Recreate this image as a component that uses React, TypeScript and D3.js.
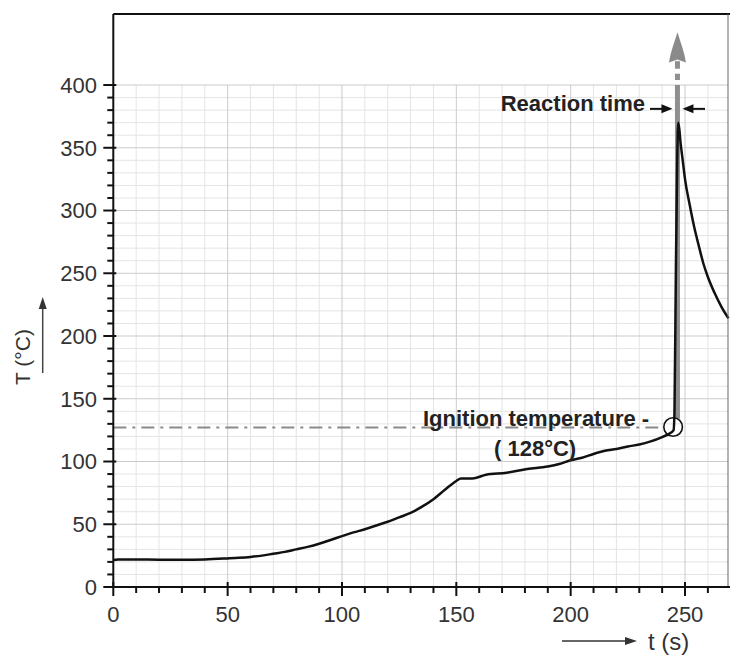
import React from "react";
import * as d3 from "d3";

const times = [0, 2, 5, 10, 20, 30, 40, 50, 55, 60, 65, 70, 75, 80, 85, 90, 95, 100, 105, 110, 115, 120, 125, 130, 135, 140, 145, 150, 152, 157, 163, 172, 181, 190, 195, 200, 205, 210, 215, 220, 225, 230, 235, 240, 243, 245, 245.4, 246.0, 246.6, 247, 247.5, 248, 249, 250, 252, 254, 256, 258, 260, 263, 266, 269];
const temps = [21.5, 22, 22, 22, 21.8, 21.8, 22, 22.8, 23.3, 24, 25, 26.5, 28, 30, 32, 34.5, 37.5, 40.5, 43.5, 46, 49, 52, 55.5, 59, 64, 70, 77.5, 84.5, 86.5, 86.5, 89.5, 91, 94, 96, 98, 101, 103, 106, 108.5, 110, 112, 113.5, 116, 119.5, 122, 125, 140, 250, 340, 370, 365, 355, 340, 325, 305, 287, 272, 258, 247, 234, 223, 214];

const xTicks = [0, 50, 100, 150, 200, 250];
const yTicks = [0, 50, 100, 150, 200, 250, 300, 350, 400];

const ignitionTime = 244.8;
const reactionTime = 246.7;
const reactionArrowT = 381;

const FONT = "'Liberation Sans', Arial, Helvetica, sans-serif";

export default function App() {
  const left = 113.3, right = 728, top = 14, bottom = 587;
  const x = d3.scaleLinear().domain([0, 268.8]).range([left, right]);
  const y = d3.scaleLinear().domain([0, 456.6]).range([bottom, top]);

  const minorX = d3.range(0, 270, 10);
  const minorY = d3.range(0, 401, 10);
  const line = d3.line<number>().x((_, i) => x(times[i])).y((d) => y(d)).curve(d3.curveMonotoneX);
  const path = line(temps) || "";

  const gx = x(reactionTime);
  const yTip = y(442), yBase = y(418);
  const ry = y(reactionArrowT);

  return (
    <div style={{ position: "absolute", left: 0, top: 0 }}>
      <svg width={730} height={657} style={{ display: "block", background: "#fff" }} fontFamily={FONT}>
        <defs>
          <clipPath id="plot">
            <rect x={left} y={top} width={730 - left} height={bottom - top} />
          </clipPath>
        </defs>
        {/* minor grid */}
        <g stroke="#e4e4e4" strokeWidth={1}>
          {minorX.filter((v) => v % 50 !== 0).map((v) => (
            <line key={"mx" + v} x1={x(v)} x2={x(v)} y1={y(0)} y2={y(400)} />
          ))}
          {minorY.filter((v) => v % 50 !== 0).map((v) => (
            <line key={"my" + v} x1={left} x2={right} y1={y(v)} y2={y(v)} />
          ))}
        </g>
        {/* major grid */}
        <g stroke="#cbcbcb" strokeWidth={1}>
          {xTicks.filter((v) => v > 0).map((v) => (
            <line key={"gx" + v} x1={x(v)} x2={x(v)} y1={y(0)} y2={y(400)} />
          ))}
          {yTicks.filter((v) => v > 0).map((v) => (
            <line key={"gy" + v} x1={left} x2={right} y1={y(v)} y2={y(v)} />
          ))}
        </g>

        {/* ignition dash-dot line */}
        <line x1={left} x2={x(ignitionTime) - 9} y1={y(127)} y2={y(127)} stroke="#8a8a8a" strokeWidth={2} strokeDasharray="13 6 3 6" />

        {/* gray vertical reaction line */}
        <g stroke="#8f8f8f" strokeWidth={5}>
          <line x1={gx} x2={gx} y1={y(134)} y2={y(400)} />
          <line x1={gx} x2={gx} y1={y(404)} y2={y(409)} />
          <line x1={gx} x2={gx} y1={y(413)} y2={y(419)} />
        </g>
        <path d={`M${gx},${yTip} C${gx + 3},${yTip + 10} ${gx + 7},${yBase - 10} ${gx + 8.5},${yBase} L${gx},${yBase - 3} L${gx - 8.5},${yBase} C${gx - 7},${yBase - 10} ${gx - 3},${yTip + 10} ${gx},${yTip} Z`} fill="#8a8a8a" />

        {/* curve */}
        <g clipPath="url(#plot)">
          <path d={path} fill="none" stroke="#111" strokeWidth={2.5} strokeLinejoin="round" />
        </g>

        {/* ignition circle */}
        <circle cx={x(ignitionTime)} cy={y(127.5)} r={9.3} fill="none" stroke="#111" strokeWidth={1.6} />

        {/* reaction time arrows */}
        <g stroke="#111" strokeWidth={2}>
          <line x1={650} x2={gx - 8} y1={ry} y2={ry} />
          <line x1={gx + 8} x2={705} y1={ry} y2={ry} />
        </g>
        <path d={`M${gx - 5},${ry} L${gx - 16},${ry - 4.5} L${gx - 16},${ry + 4.5} Z`} fill="#111" />
        <path d={`M${gx + 5},${ry} L${gx + 16},${ry - 4.5} L${gx + 16},${ry + 4.5} Z`} fill="#111" />

        {/* frame */}
        <line x1={left} x2={730} y1={top} y2={top} stroke="#111" strokeWidth={2} />
        <line x1={right} x2={right} y1={top} y2={bottom} stroke="#666" strokeWidth={1} />
        <line x1={left} x2={left} y1={top} y2={bottom + 1} stroke="#111" strokeWidth={2} />
        <line x1={left - 1} x2={730} y1={bottom} y2={bottom} stroke="#111" strokeWidth={2} />

        {/* ticks */}
        <g stroke="#111" strokeWidth={2}>
          {minorX.filter((v) => v % 50 !== 0).map((v) => (
            <line key={"tx" + v} x1={x(v)} x2={x(v)} y1={bottom} y2={bottom + 6} />
          ))}
          {xTicks.map((v) => (
            <line key={"TX" + v} x1={x(v)} x2={x(v)} y1={bottom - 5} y2={bottom + 9} />
          ))}
          {minorY.filter((v) => v % 50 !== 0).map((v) => (
            <line key={"ty" + v} x1={left - 6} x2={left} y1={y(v)} y2={y(v)} />
          ))}
          {yTicks.map((v) => (
            <line key={"TY" + v} x1={left - 10} x2={left + 3} y1={y(v)} y2={y(v)} />
          ))}
        </g>
        <g fontSize={22} fill="#333" textAnchor="middle">
          {xTicks.map((v) => (
            <text key={"lx" + v} x={x(v)} y={622}>{v}</text>
          ))}
        </g>
        <g fontSize={22} fill="#333" textAnchor="end">
          {yTicks.map((v) => (
            <text key={"ly" + v} x={97} y={y(v) + 7.8}>{v}</text>
          ))}
        </g>

        {/* axis labels */}
        <text transform="translate(30,357) rotate(-90)" textAnchor="middle" fontSize={21} fill="#333">T (°C)</text>
        <line x1={42.7} x2={42.7} y1={373} y2={306} stroke="#444" strokeWidth={1.5} />
        <path d="M42.7,297 L38.7,309 L46.7,309 Z" fill="#333" />

        <text x={648} y={650} fontSize={24} fill="#333">t (s)</text>
        <line x1={562} x2={628} y1={641} y2={641} stroke="#333" strokeWidth={1.5} />
        <path d="M637,641 L625,637 L625,645 Z" fill="#333" />

        {/* annotations */}
        <text x={645} y={111} textAnchor="end" fontSize={22} fontWeight="bold" fill="#222">Reaction time</text>
        <text x={423} y={425.7} fontSize={22} fontWeight="bold" fill="#222">Ignition temperature -</text>
        <text x={494} y={456} fontSize={22} fontWeight={600} fill="#222">( 128°C)</text>
      </svg>
    </div>
  );
}
